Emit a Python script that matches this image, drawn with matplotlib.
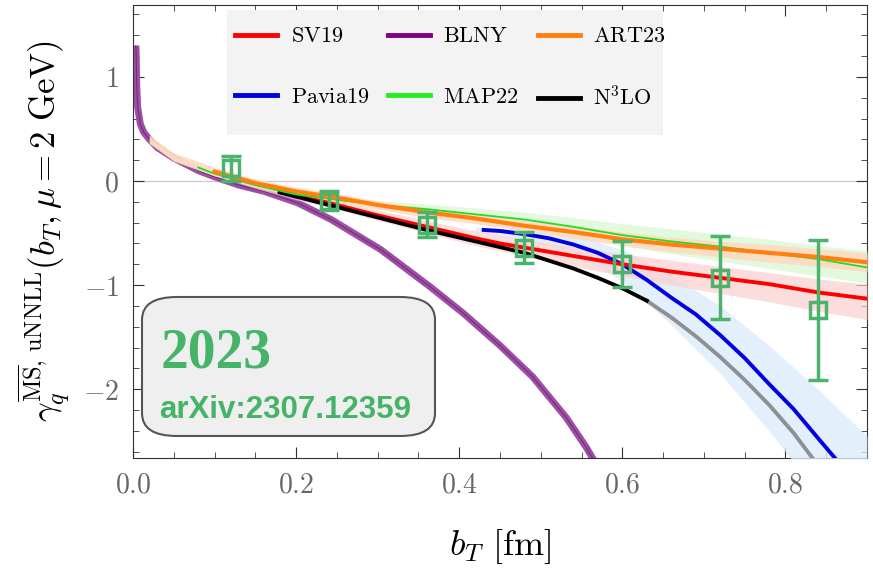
import numpy as np
import matplotlib
matplotlib.use('Agg')
import matplotlib.pyplot as plt
from matplotlib.ticker import MultipleLocator, FuncFormatter
from matplotlib.patches import FancyBboxPatch, Rectangle

plt.rcParams['mathtext.fontset'] = 'cm'
plt.rcParams['font.family'] = 'DejaVu Serif'

# --- curves (b_T in fm, gamma) ---
b_blny = [0.0035, 0.004, 0.0045, 0.0057, 0.0089, 0.013, 0.019, 0.03, 0.05, 0.08, 0.10, 0.13,
          0.161, 0.202, 0.243, 0.304, 0.365, 0.405, 0.45, 0.49, 0.531, 0.556, 0.57]
g_blny = [1.30, 1.20, 0.94, 0.71, 0.55, 0.47, 0.41, 0.32, 0.22, 0.10, 0.04, -0.04,
          -0.10, -0.21, -0.37, -0.66, -1.02, -1.27, -1.58, -1.88, -2.27, -2.56, -2.75]

b_band = [0.02, 0.05, 0.10, 0.15, 0.20, 0.25, 0.30, 0.36, 0.42, 0.48, 0.54, 0.60, 0.66, 0.72, 0.78, 0.84, 0.90]
art23_hi = [0.44, 0.27, 0.13, 0.02, -0.06, -0.12, -0.19, -0.26, -0.32, -0.38, -0.43, -0.49, -0.54, -0.58, -0.61, -0.65, -0.69]
art23_lo = [0.36, 0.19, 0.05, -0.06, -0.14, -0.20, -0.27, -0.35, -0.41, -0.48, -0.55, -0.62, -0.68, -0.73, -0.78, -0.82, -0.87]
map22_hi = [0.41, 0.24, 0.09, -0.02, -0.10, -0.15, -0.19, -0.22, -0.26, -0.30, -0.35, -0.41, -0.46, -0.51, -0.56, -0.62, -0.67]
map22_lo = [0.37, 0.20, 0.05, -0.06, -0.16, -0.21, -0.27, -0.32, -0.38, -0.44, -0.52, -0.62, -0.70, -0.77, -0.84, -0.91, -0.98]
sv19_hi = [0.41, 0.24, 0.09, -0.03, -0.12, -0.19, -0.28, -0.38, -0.48, -0.56, -0.63, -0.70, -0.76, -0.82, -0.88, -0.94, -0.99]
sv19_lo = [0.37, 0.20, 0.05, -0.07, -0.18, -0.27, -0.38, -0.50, -0.62, -0.72, -0.82, -0.91, -1.00, -1.08, -1.16, -1.25, -1.33]

b_art23 = [0.10, 0.15, 0.20, 0.25, 0.30, 0.36, 0.42, 0.48, 0.54, 0.60, 0.66, 0.72, 0.78, 0.84, 0.90]
g_art23 = [0.09, -0.02, -0.10, -0.16, -0.23, -0.30, -0.36, -0.43, -0.49, -0.56, -0.61, -0.65, -0.69, -0.73, -0.78]
b_map22 = [0.08, 0.10, 0.15, 0.20, 0.25, 0.30, 0.36, 0.42, 0.48, 0.54, 0.60, 0.66, 0.72, 0.78, 0.84, 0.90]
g_map22 = [0.13, 0.07, -0.04, -0.13, -0.18, -0.23, -0.27, -0.32, -0.37, -0.44, -0.52, -0.58, -0.63, -0.69, -0.75, -0.83]
b_sv19 = [0.18, 0.21, 0.24, 0.30, 0.36, 0.42, 0.45, 0.48, 0.54, 0.60, 0.66, 0.72, 0.78, 0.84, 0.90]
g_sv19 = [-0.10, -0.16, -0.21, -0.33, -0.44, -0.55, -0.60, -0.64, -0.72, -0.80, -0.87, -0.93, -0.99, -1.07, -1.13]

b_pavia = [0.43, 0.45, 0.48, 0.51, 0.54, 0.57, 0.60, 0.63, 0.66, 0.69, 0.72, 0.75, 0.78, 0.81, 0.84, 0.865]
g_pavia = [-0.47, -0.48, -0.51, -0.55, -0.61, -0.69, -0.80, -0.95, -1.12, -1.28, -1.48, -1.70, -1.95, -2.19, -2.47, -2.70]
b_pavia_band = [0.42, 0.48, 0.54, 0.60, 0.66, 0.72, 0.78, 0.84, 0.90]
pavia_hi = [-0.44, -0.47, -0.52, -0.66, -0.90, -1.20, -1.58, -2.00, -2.45]
pavia_lo = [-0.49, -0.57, -0.68, -0.96, -1.38, -1.85, -2.40, -3.00, -3.60]

b_n3lo = [0.18, 0.21, 0.24, 0.30, 0.36, 0.42, 0.48, 0.54, 0.57, 0.60, 0.63]
g_n3lo = [-0.11, -0.17, -0.23, -0.35, -0.47, -0.58, -0.69, -0.84, -0.93, -1.03, -1.15]
b_n3lo_ext = [0.63, 0.66, 0.69, 0.72, 0.75, 0.78, 0.81, 0.835]
g_n3lo_ext = [-1.15, -1.31, -1.49, -1.69, -1.91, -2.15, -2.42, -2.68]

# lattice points
b_lat = [0.12, 0.24, 0.36, 0.48, 0.60, 0.72, 0.84]
g_lat = [0.12, -0.19, -0.42, -0.64, -0.80, -0.93, -1.24]
err_lat = [0.12, 0.09, 0.12, 0.15, 0.22, 0.40, 0.67]

fig = plt.figure(figsize=(8.73, 5.69), dpi=100)
ax = fig.add_axes([133/873, 1-458/569, (867-133)/873, (458-5)/569])

ax.axhline(0, color='#cccccc', lw=1, zorder=1)

ax.plot(b_blny, g_blny, color='#9d4fa3', lw=5, solid_capstyle='butt', zorder=2)
ax.plot(b_blny, g_blny, color='#7a2a80', lw=0.8, zorder=2)

ax.fill_between(b_pavia_band, pavia_lo, pavia_hi, color='#dcebfb', alpha=0.8, lw=0, zorder=3)
ax.fill_between(b_band, sv19_lo, sv19_hi, color='#fbcfcf', alpha=0.7, lw=0, zorder=3)
ax.fill_between(b_band, map22_lo, map22_hi, color='#cff5c8', alpha=0.6, lw=0, zorder=3)
ax.fill_between(b_band, art23_lo, art23_hi, color='#fcdcc0', alpha=0.9, lw=0, zorder=3)

ax.plot(b_pavia, g_pavia, color='#0000e0', lw=2.8, zorder=4)
ax.plot(b_n3lo_ext, g_n3lo_ext, color='#8c9196', lw=2.8, zorder=4)
ax.plot(b_sv19, g_sv19, color='#ff0000', lw=2.8, zorder=4)
ax.plot(b_n3lo, g_n3lo, color='black', lw=2.8, zorder=4)
ax.plot(b_map22, g_map22, color='#22dd22', lw=1.3, zorder=5)
ax.plot(b_art23, g_art23, color='#ff7f0f', lw=3, zorder=5)

ax.errorbar(b_lat, g_lat, yerr=err_lat, fmt='s', ms=12, mfc='none', mec='#4bb36b', mew=2.5,
            ecolor='#4bb36b', elinewidth=2.5, capsize=7, capthick=2.5, zorder=6)

# legend on a grey panel
ax.add_patch(Rectangle((0.128, 0.713), 0.594, 0.276, transform=ax.transAxes,
                       facecolor='#f3f3f3', edgecolor='none', zorder=7))
handles = [plt.Line2D([], [], color=c, lw=3.5) for c in
           ['#ff0000', '#0000e0', '#800080', '#22ee22', '#ff7f0f', 'black']]
labels = [r'$\mathrm{SV19}$', r'$\mathrm{Pavia19}$', r'$\mathrm{BLNY}$',
          r'$\mathrm{MAP22}$', r'$\mathrm{ART23}$', r'$\mathrm{N^3LO}$']
leg = ax.legend(handles, labels, ncol=3, loc='upper left', bbox_to_anchor=(0.139, 0.955),
                fontsize=16, handlelength=1.9, handletextpad=0.6, columnspacing=0.85,
                labelspacing=1.75, borderpad=0, borderaxespad=0, frameon=False)
leg.set_zorder(8)

# info box
box = FancyBboxPatch((142/873, 1-436/569), (435-142)/873, (436-297)/569,
                     boxstyle='round,pad=0,rounding_size=0.04', transform=fig.transFigure,
                     facecolor='#efefef', edgecolor='#555555', lw=1.5, zorder=8)
fig.patches.append(box)
fig.text(161/873, 1-368/569, '2023', fontsize=40, fontweight='bold', family='Liberation Serif',
         color='#45b468', zorder=9)
fig.text(159/873, 1-418/569, 'arXiv:2307.12359', fontsize=22.5, fontweight='bold',
         family='Liberation Sans', color='#45b468', zorder=9)

ax.set_xlim(0, 0.9)
ax.set_ylim(-2.66, 1.69)
ax.xaxis.set_major_locator(MultipleLocator(0.2))
ax.xaxis.set_minor_locator(MultipleLocator(0.05))
ax.yaxis.set_major_locator(MultipleLocator(1))
ax.yaxis.set_minor_locator(MultipleLocator(0.2))
ax.xaxis.set_major_formatter(FuncFormatter(lambda v, p: r'$%.1f$' % v))
ax.yaxis.set_major_formatter(FuncFormatter(lambda v, p: r'$%d$' % round(v)))
ax.tick_params(which='both', direction='in', top=True, right=True, colors='#333333',
               labelcolor='#666666', labelsize=20, pad=10)
ax.tick_params(which='major', length=8)
ax.tick_params(which='minor', length=4)
for s in ax.spines.values():
    s.set_color('#333333')

ax.set_xlabel(r'$b_T\ [\mathrm{fm}]$', fontsize=26, labelpad=20)
ax.set_ylabel(r'$\gamma_q^{\overline{\mathrm{MS}},\,\mathrm{uNNLL}}(b_T, \mu = 2\ \mathrm{GeV})$',
              fontsize=25, labelpad=8)

fig.savefig('out.png', dpi=100)
